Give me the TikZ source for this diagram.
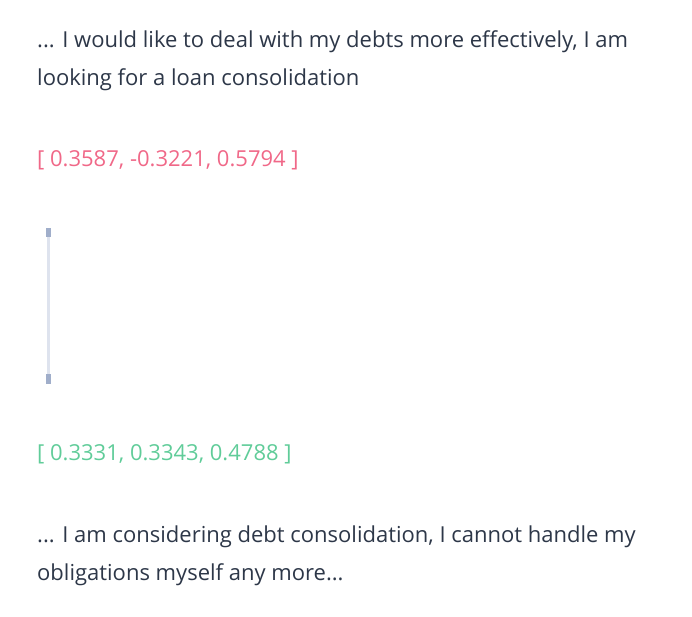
\documentclass[tikz,border=0pt]{standalone}
\usepackage{fontspec}
\usetikzlibrary{calc}
\setmainfont{Open Sans}
\definecolor{txt}{RGB}{45,55,72}
\definecolor{pinkv}{RGB}{240,104,136}
\definecolor{greenv}{RGB}{96,204,153}
\definecolor{barlight}{RGB}{222,227,238}
\definecolor{bardark}{RGB}{160,174,202}
\begin{document}
\begin{tikzpicture}[x=1pt,y=-1pt,
  line/.style={anchor=base west,inner sep=0pt,font=\fontsize{22}{26}\selectfont},
  bodytext/.style={line,text=txt},
  vecpink/.style={line,text=pinkv},
  vecgreen/.style={line,text=greenv}]
\useasboundingbox (0,0) rectangle (692,616);
\node[bodytext] (top1) at (37,47) {... I would like to deal with my debts more effectively, I am};
\node[bodytext] (top2) at (37,85) {looking for a loan consolidation};
\node[vecpink] (vecA) at (37,166) {[ 0.3587, -0.3221, 0.5794 ]};
\coordinate (bt) at (48.5,228);
\coordinate (bb) at (48.5,384);
\draw[barlight,line width=3pt] (bt) -- (bb);
\fill[bardark] ($(bt)+(-2.5,0)$) rectangle ($(bt)+(2.5,9)$);
\fill[bardark] ($(bb)+(-2.5,-10)$) rectangle ($(bb)+(2.5,0)$);
\node[vecgreen] (vecB) at (37,460) {[ 0.3331, 0.3343, 0.4788 ]};
\node[bodytext] (bot1) at (37,542) {... I am considering debt consolidation, I cannot handle my};
\node[bodytext] (bot2) at (37,580) {obligations myself any more...};
\end{tikzpicture}
\end{document}
